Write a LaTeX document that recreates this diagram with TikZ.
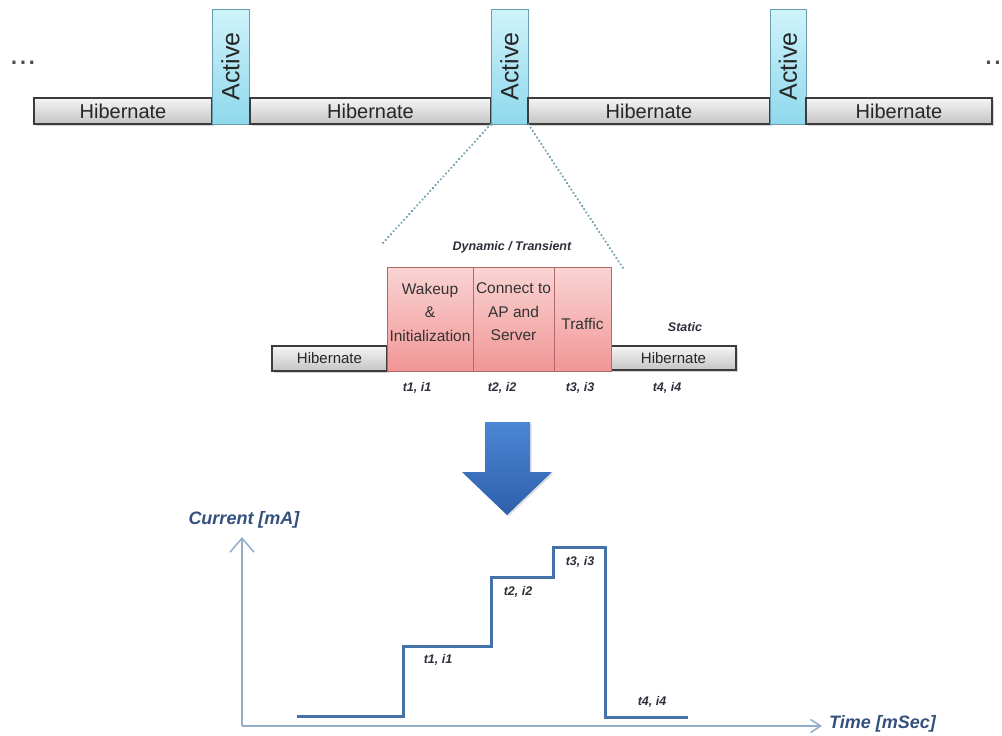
\documentclass[tikz,border=0pt]{standalone}
\usepackage{fontspec}
\setmainfont{Liberation Sans}
\usetikzlibrary{shadows,arrows.meta}
\definecolor{hibtop}{HTML}{F6F6F6}
\definecolor{hibbot}{HTML}{C4C4C4}
\definecolor{acttop}{HTML}{CFF3FB}
\definecolor{actbot}{HTML}{8FD8EC}
\definecolor{pinktop}{HTML}{FAD4D4}
\definecolor{pinkbot}{HTML}{F29696}
\definecolor{boxline}{HTML}{3C3C3C}
\definecolor{actline}{HTML}{6A9CB0}
\definecolor{pinkline}{HTML}{B06A6A}
\definecolor{dotline}{HTML}{6E9FB0}
\definecolor{curve}{HTML}{4472A8}
\definecolor{axis}{HTML}{94ADC8}
\definecolor{axlabel}{HTML}{34507E}
\definecolor{smalllab}{HTML}{2E2E3A}
\definecolor{arrowtop}{HTML}{4C86D4}
\definecolor{arrowbot}{HTML}{2E5FAA}
\tikzset{
  hib/.style={draw=boxline, line width=1.3pt, top color=hibtop, bottom color=hibbot,
    inner sep=0pt, drop shadow={shadow xshift=2pt, shadow yshift=-2pt, opacity=0.35},
    font=\fontsize{20}{22}\selectfont, text=black!85},
  hibsmall/.style={hib, font=\fontsize{15}{17}\selectfont},
  act/.style={draw=actline, line width=0.8pt, top color=acttop, bottom color=actbot,
    inner sep=0pt, minimum width=37pt, minimum height=115pt},
  acttext/.style={rotate=90, font=\fontsize{25}{27}\selectfont, text=black!85, inner sep=0pt},
  phase/.style={draw=pinkline, line width=0.8pt, top color=pinktop, bottom color=pinkbot,
    inner sep=0pt, minimum height=104pt, align=center,
    font=\fontsize{15.5}{23.5}\selectfont, text=black!80},
  phasetext/.style={align=center, inner sep=0pt, font=\fontsize{15.5}{23.5}\selectfont, text=black!80},
  small/.style={font=\fontsize{12.5}{14}\selectfont\bfseries\itshape, text=smalllab, inner sep=0pt},
  axlab/.style={font=\fontsize{18}{20}\selectfont\bfseries\itshape, text=axlabel, inner sep=0pt},
  dotted link/.style={draw=dotline, line width=2.4pt, dash pattern=on 0.1pt off 3.8pt, line cap=round},
  axisline/.style={draw=axis, line width=1.5pt},
  ellip/.style={font=\fontsize{32}{32}\selectfont, text=black!70, inner sep=0pt},
}
\begin{document}
\begin{tikzpicture}[x=1pt,y=-1pt]
\useasboundingbox (0,0) rectangle (1002,736);
% top bar
\node[hib, minimum width=178pt, minimum height=26pt] (h1) at (123,111) {Hibernate};
\node[act] (a1) at (230.5,66.5) {};
\node[acttext] (a1t) at (a1.center) {Active};
\node[hib, minimum width=241pt, minimum height=26pt] (h2) at (370.5,111) {Hibernate};
\node[act] (a2) at (509.5,66.5) {};
\node[acttext] (a2t) at (a2.center) {Active};
\node[hib, minimum width=242pt, minimum height=26pt] (h3) at (649,111) {Hibernate};
\node[act, minimum width=36pt] (a3) at (788,66.5) {};
\node[acttext] (a3t) at (a3.center) {Active};
\node[hib, minimum width=186pt, minimum height=26pt] (h4) at (899,111) {Hibernate};
\node[ellip] (dl) at (23,63) {...};
\node[ellip, anchor=west] (dr) at (984,63) {..};
% zoom lines
\coordinate (zl) at (383,243);
\coordinate (zr) at (623,268);
\draw[dotted link] (a2.south west) -- (zl);
\draw[dotted link] (a2.south east) -- (zr);
% middle
\node[hibsmall, minimum width=115pt, minimum height=25pt] (mh1) at (329.5,358.5) {Hibernate};
\node[hibsmall, minimum width=125pt, minimum height=24pt] (mh2) at (673.5,358) {Hibernate};
\node[phase, minimum width=86pt] (wk) at (430,319) {};
\node[phase, minimum width=81pt] (cn) at (513.5,319) {};
\node[phase, minimum width=57pt] (tr) at (582.5,319) {};
\node[phasetext] (wkt) at (430,312) {Wakeup\\\&\\Initialization};
\node[phasetext] (cnt) at (513.5,312) {Connect to\\AP and\\Server};
\node[phasetext] (trt) at (582.5,324) {Traffic};
\node[small] (dyn) at (512,247) {Dynamic / Transient};
\node[small] (st) at (685,327) {Static};
\node[small] (l1) at (417,388) {t1, i1};
\node[small] (l2) at (502,388) {t2, i2};
\node[small] (l3) at (580,388) {t3, i3};
\node[small] (l4) at (667,388) {t4, i4};
% big arrow
\shade[top color=arrowtop, bottom color=arrowbot, drop shadow={shadow xshift=1.5pt, shadow yshift=-1.5pt, opacity=0.25}]
  (485,422) -- (530,422) -- (530,472) -- (552,472) -- (507,515) -- (462,472) -- (485,472) -- cycle;
% graph
\coordinate (o) at (242,726);
\coordinate (ytop) at (242,537);
\coordinate (xend) at (822,726);
\draw[axisline, -{Straight Barb[length=14pt,width=24pt,line width=1.5pt]}] (o) -- (ytop);
\draw[axisline, -{Straight Barb[length=10pt,width=13pt,line width=1.5pt]}] (o) -- (xend);
\node[axlab] (cur) at (244,520) {Current [mA]};
\node[axlab, anchor=west] (tim) at (829,724) {Time [mSec]};
\draw[curve, line width=3pt, line join=miter]
  (297,716) -- (403,716) -- (403,646) -- (491,646) -- (491,577) -- (553,577)
  -- (553,547) -- (605,547) -- (605,717) -- (688,717);
\node[small] (g1) at (438,660) {t1, i1};
\node[small] (g2) at (518,592) {t2, i2};
\node[small] (g3) at (580,562) {t3, i3};
\node[small] (g4) at (652,702) {t4, i4};
\end{tikzpicture}
\end{document}
